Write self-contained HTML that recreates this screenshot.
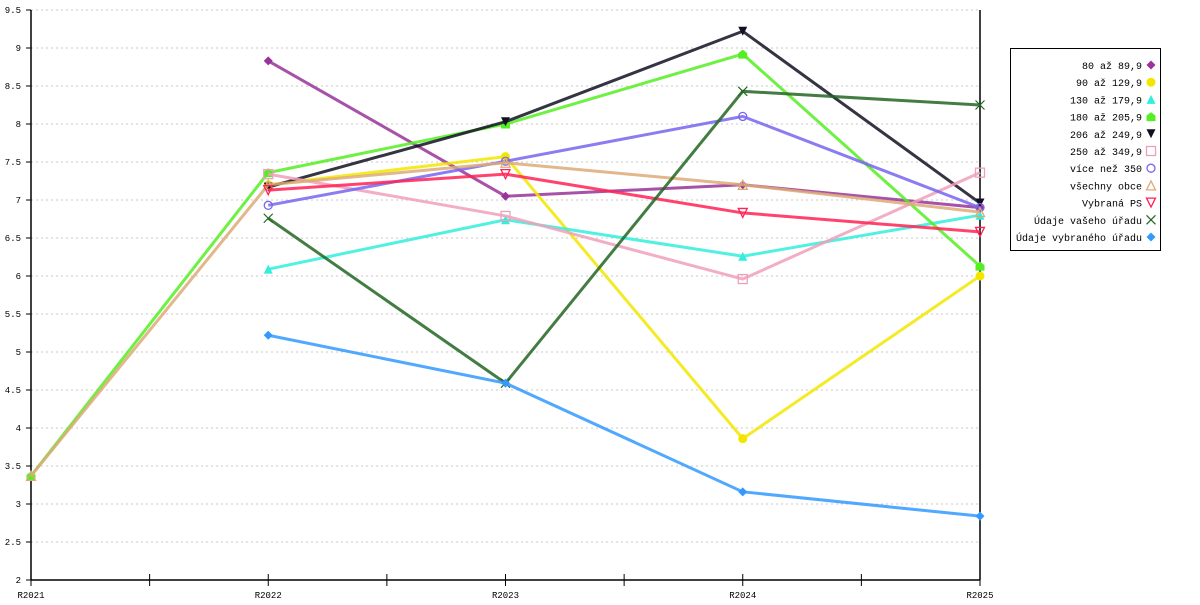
<!DOCTYPE html>
<html><head><meta charset="utf-8"><style>
body{margin:0;background:#fff;width:1200px;height:600px;overflow:hidden}
svg{font-family:"Liberation Mono","DejaVu Sans Mono",monospace}
</style></head><body>
<svg id="c" width="1200" height="600"></svg>
<script>
const categories=["R2021","R2022","R2023","R2024","R2025"];
const yTicks=[2,2.5,3,3.5,4,4.5,5,5.5,6,6.5,7,7.5,8,8.5,9,9.5];
const seriesNames=["80 až 89,9","90 až 129,9","130 až 179,9","180 až 205,9","206 až 249,9","250 až 349,9","více než 350","všechny obce","Vybraná PS","Údaje vašeho úřadu","Údaje vybraného úřadu"];
const s80=[null,8.83,7.05,7.2,6.9];
const s90=[null,7.2,7.57,3.86,6.0];
const s130=[null,6.09,6.74,6.26,6.8];
const s180=[3.37,7.36,8.0,8.92,6.13];
const s206=[null,7.17,8.03,9.22,6.96];
const s250=[null,7.34,6.79,5.96,7.36];
const s350=[null,6.93,7.51,8.1,6.9];
const sAll=[3.37,7.2,7.49,7.2,6.84];
const sPS=[null,7.13,7.34,6.83,6.58];
const sYour=[null,6.76,4.59,8.43,8.25];
const sSel=[null,5.22,4.59,3.16,2.84];
const seriesValues=[s80,s90,s130,s180,s206,s250,s350,sAll,sPS,sYour,sSel];
const colors=["#993399","#f2e600","#33eedd","#55ee22","#111122","#eea0bb","#7766ee","#ddaa77","#ff2255","#226622","#3399ff"];
const markers=["diamond","circle","tri","house","tridown","square","ocircle","otri","otridown","x","diamond"];
const X0=31,X1=980,Y0=580,Y1=10;
const x=i=>X0+i*(X1-X0)/(categories.length-1);
const y=v=>Y0-(v-2)/(9.5-2)*(Y0-Y1);
const svg=document.getElementById('c');const NS="http://www.w3.org/2000/svg";
function mk(t,a,p){const e=document.createElementNS(NS,t);for(const k in a)e.setAttribute(k,a[k]);(p||svg).appendChild(e);return e;}
yTicks.forEach(v=>{
 if(v>2){const g=mk('line',{x1:X0,x2:X1,y1:y(v),y2:y(v),stroke:'#c8c8c8','stroke-dasharray':'2,3'});
 
 }
 mk('line',{x1:X0-5,x2:X0,y1:y(v),y2:y(v),stroke:'#000'});
 const t=mk('text',{x:X0-10,y:y(v)+3,'font-size':9,'text-anchor':'end'});t.textContent=v;
 
 
});
const ax=mk('line',{x1:X0,x2:X0,y1:Y1,y2:Y0,stroke:'#000','stroke-width':1.5});


const ax2=mk('line',{x1:X1,x2:X1,y1:Y1,y2:Y0,stroke:'#000','stroke-width':1.5});


const xa=mk('line',{x1:X0,x2:X1,y1:Y0,y2:Y0,stroke:'#000','stroke-width':1.5});


for(let i=0;i<categories.length*2-1;i++){const xx=X0+i*(X1-X0)/8;mk('line',{x1:xx,x2:xx,y1:Y0-6,y2:Y0+6,stroke:'#000'});}
categories.forEach((c,i)=>{const t=mk('text',{x:x(i),y:Y0+18,'font-size':9,'text-anchor':'middle'});t.textContent=c;
 
 });
function marker(type,cx,cy,col,p){
 const s=4.5;
 switch(type){
 case 'diamond':return mk('polygon',{points:`${cx},${cy-s} ${cx+s},${cy} ${cx},${cy+s} ${cx-s},${cy}`,fill:col},p);
 case 'circle':return mk('circle',{cx,cy,r:s,fill:col},p);
 case 'ocircle':return mk('circle',{cx,cy,r:s-0.5,fill:'none',stroke:col,'stroke-width':1.3},p);
 case 'tri':return mk('polygon',{points:`${cx},${cy-s} ${cx+s},${cy+s} ${cx-s},${cy+s}`,fill:col},p);
 case 'otri':return mk('polygon',{points:`${cx},${cy-s} ${cx+s},${cy+s} ${cx-s},${cy+s}`,fill:'none',stroke:col,'stroke-width':1.3},p);
 case 'tridown':return mk('polygon',{points:`${cx-s},${cy-s} ${cx+s},${cy-s} ${cx},${cy+s}`,fill:col},p);
 case 'otridown':return mk('polygon',{points:`${cx-s},${cy-s} ${cx+s},${cy-s} ${cx},${cy+s}`,fill:'none',stroke:col,'stroke-width':1.3},p);
 case 'house':return mk('polygon',{points:`${cx},${cy-s} ${cx+s},${cy-1} ${cx+s},${cy+s} ${cx-s},${cy+s} ${cx-s},${cy-1}`,fill:col},p);
 case 'square':return mk('rect',{x:cx-s,y:cy-s,width:2*s,height:2*s,fill:'none',stroke:col,'stroke-width':1.3},p);
 case 'x':return mk('path',{d:`M${cx-s},${cy-s}L${cx+s},${cy+s}M${cx+s},${cy-s}L${cx-s},${cy+s}`,stroke:col,'stroke-width':1.2},p);
 }
}
seriesValues.forEach((vals,si)=>{
 const g=mk('g',{});
 
 
 let d='';vals.forEach((v,i)=>{if(v==null)return;d+=(d?'L':'M')+x(i)+','+y(v);});
 mk('path',{d,fill:'none',stroke:colors[si],'stroke-width':3,'stroke-opacity':0.85},g);
 vals.forEach((v,i)=>{if(v==null)return;const m=marker(markers[si],x(i),y(v),colors[si],g);
  
  });
});
const lg=mk('g',{});


mk('rect',{x:1010.5,y:48.5,width:150,height:202,fill:'#fff',stroke:'#000'},lg);
seriesNames.forEach((n,i)=>{const yy=65+i*17.2;
 const t=mk('text',{x:1142,y:yy+4,'font-size':10,'text-anchor':'end'},lg);t.textContent=n;
 
 
 marker(markers[i],1151,yy,colors[i],lg);});
</script>
</body></html>
